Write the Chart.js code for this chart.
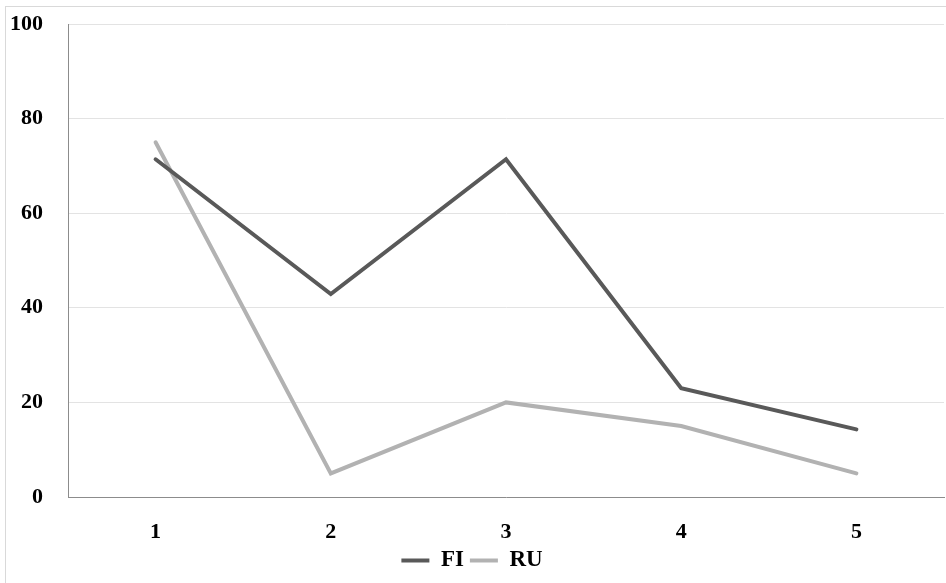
<!DOCTYPE html>
<html>
<head>
<meta charset="utf-8">
<script src="https://cdn.jsdelivr.net/npm/chart.js@4/dist/chart.umd.min.js"></script>
<style>
    html, body { margin: 0; padding: 0; background: #fff; overflow: hidden; }
    #wrap { position: relative; width: 946px; height: 583px; }
    #frame { position: absolute; left: 5px; top: 6px; width: 960px; height: 600px; border: 1px solid #d9d9d9; }
    #chart { position: absolute; left: 0; top: 0; }
</style>
</head>
<body>
<div id="wrap">
    <div id="frame"></div>
    <canvas id="chart" width="946" height="583"></canvas>
</div>
<script>
const categories = ['1', '2', '3', '4', '5'];
const fiValues = [71.4, 42.9, 71.4, 23.0, 14.3];
const ruValues = [75, 5, 20, 15, 5];
const yTicks = [0, 20, 40, 60, 80, 100];

const serif = '"Liberation Serif", "DejaVu Serif", serif';

const ctx = document.getElementById('chart').getContext('2d');
new Chart(ctx, {
    type: 'line',
    data: {
        labels: categories,
        datasets: [
            {
                label: 'FI',
                data: fiValues,
                borderColor: '#595959',
                backgroundColor: '#595959',
                borderWidth: 4,
                borderCapStyle: 'round',
                pointRadius: 0,
                tension: 0
            },
            {
                label: 'RU',
                data: ruValues,
                borderColor: '#b2b2b2',
                backgroundColor: '#b2b2b2',
                borderWidth: 4,
                borderCapStyle: 'round',
                pointRadius: 0,
                tension: 0
            }
        ]
    },
    options: {
        responsive: false,
        animation: false,
        layout: { padding: { left: 0, top: 24, right: 2, bottom: 1 } },
        plugins: {
            legend: {
                position: 'bottom',
                labels: {
                    usePointStyle: true,
                    pointStyle: 'line',
                    pointStyleWidth: 28,
                    boxHeight: 22,
                    padding: 6,
                    color: '#000',
                    font: { family: serif, size: 23, weight: 'bold' }
                }
            },
            tooltip: { enabled: false }
        },
        scales: {
            x: {
                offset: true,
                grid: { display: false, drawTicks: false },
                border: { display: true, color: '#8c8c8c', width: 1 },
                ticks: {
                    color: '#000',
                    padding: 22,
                    font: { family: serif, size: 22, weight: 'bold' }
                },
                afterFit: (scale) => { scale.height = 46; }
            },
            y: {
                min: 0,
                max: 100,
                afterBuildTicks: (scale) => { scale.ticks = yTicks.map(v => ({ value: v })); },
                grid: { color: '#e3e3e3', drawTicks: false },
                border: { display: true, color: '#8c8c8c', width: 1 },
                ticks: {
                    color: '#000',
                    padding: 25,
                    font: { family: serif, size: 22, weight: 'bold' }
                },
                afterFit: (scale) => {
                    scale.width = 68;
                    scale.paddingTop = 0;
                    scale.paddingBottom = 0;
                }
            }
        }
    }
});
</script>
</body>
</html>
